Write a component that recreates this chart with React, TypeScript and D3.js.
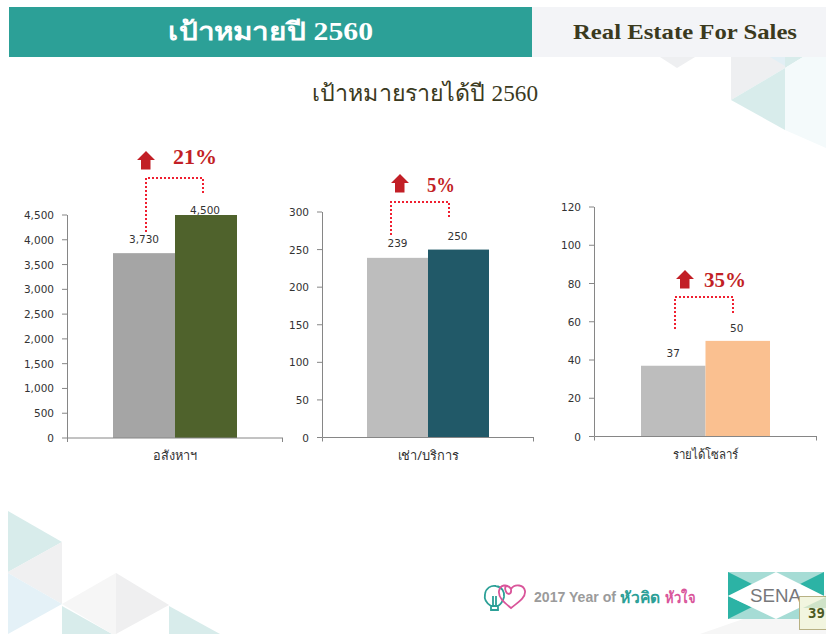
import React from "react";
import * as d3 from "d3";

// ---- data ----
const seriesKeys = ["actual", "target"];
const categories = ["อสังหาฯ", "เช่า/บริการ", "รายได้โซลาร์"];
const previousValues = [3730, 239, 37];
const targetValues = [4500, 250, 50];
const axisMaximums = [4500, 300, 120];
const tickCounts = [9, 6, 6];
const growthLabels = ["21%", "5%", "35%"];
const previousColors = ["#a5a5a5", "#bdbdbd", "#bdbdbd"];
const targetColors = ["#4f622c", "#215968", "#fac090"];

// ---- layout ----
const panels = [
  { x0: 67, x1: 283, top: 215, bottom: 438, outer: 46, labelOff: [10, 1], catY: 460, catW: 44,
    bL: 146, bR: 203, bTop: 178, bLBot: 232, bRBot: 193, arrowX: 146, arrowTip: 151, gX: 173, gY: 164, gW: 44 },
  { x0: 322, x1: 534, top: 212, bottom: 437.5, outer: 45, labelOff: [11, 10], catY: 460, catW: 61,
    bL: 391, bR: 449, bTop: 202, bLBot: 235, bRBot: 218, arrowX: 400, arrowTip: 174, gX: 427, gY: 192, gW: 28 },
  { x0: 594, x1: 817, top: 207, bottom: 436.5, outer: 47, labelOff: [9, 9], catY: 459, catW: 66,
    bL: 675, bR: 733, bTop: 297, bLBot: 329, bRBot: 313, arrowX: 685, arrowTip: 270, gX: 704, gY: 287, gW: 42 },
];

const TICK_FONT = "'DejaVu Sans', sans-serif";
const THAI_FONT = "'Noto Sans', 'Liberation Sans', sans-serif";
const HEAD_FONT = "'Liberation Serif', serif";
const LATIN_FONT = "'Liberation Sans', sans-serif";

const decor: [string, string][] = [
  ["8,511 62,542 8,572", "#d8eceb"],
  ["8,572 62,542 62,604 8,573", "#f0f0f1"],
  ["8,573 62,604 8,634", "#e4f1f7"],
  ["62,606 112,634 62,634", "#d8eceb"],
  ["62,604 116,573 116,634 112,634", "#f6f6f6"],
  ["116,573 169,605 116,634", "#efeff0"],
  ["169,606 220,634 169,634", "#d8eceb"],
  ["731,57 785,57 785,68 731,100", "#eeeff1"],
  ["731,100 785,68 785,130", "#d8eceb"],
  ["770,57 785,57 785,66", "#e2eff5"],
  ["785,57 803,57 785,68", "#d8eceb"],
  ["803,57 826,57 826,148 785,130 785,68", "#f4fafb"],
  ["660,57 695,57 677,68", "#eeeff1"],
  ["700,634 826,590 826,634", "#f6f6f6"],
];

function Panel({ i }: { i: number }) {
  const p = panels[i];
  const y = d3.scaleLinear().domain([0, axisMaximums[i]]).range([p.bottom, p.top]);
  const step = (p.x1 - p.x0 - 2 * p.outer) / 2;
  const x = d3
    .scaleBand<string>()
    .domain(seriesKeys)
    .range([p.x0, p.x1])
    .paddingInner(0)
    .paddingOuter(p.outer / step);
  const vals = [previousValues[i], targetValues[i]];
  const cols = [previousColors[i], targetColors[i]];
  const fmt = d3.format(",");
  const ax = p.arrowX;
  const t = p.arrowTip;
  return (
    <g>
      {seriesKeys.map((k, j) => (
        <rect key={k} x={x(k)} y={y(vals[j])} width={x.bandwidth()} height={p.bottom - y(vals[j])} fill={cols[j]} />
      ))}
      <path
        d={`M${p.x0 + 0.5},${p.top}V${p.bottom}H${p.x1}M${p.x0 + 0.5},${p.bottom}v4M${p.x1 - 0.5},${p.bottom}v4`}
        fill="none"
        stroke="#868686"
      />
      {y.ticks(tickCounts[i]).map((v) => (
        <g key={v}>
          <line x1={p.x0 - 5} x2={p.x0} y1={y(v)} y2={y(v)} stroke="#868686" />
          <text x={p.x0 - 13} y={y(v) + 4} textAnchor="end" fontFamily={TICK_FONT} fontSize={10.5} fill="#333">
            {fmt(v)}
          </text>
        </g>
      ))}
      {seriesKeys.map((k, j) => (
        <text
          key={k}
          x={x(k)! + x.bandwidth() / 2 - (j === 0 ? 0 : 1)}
          y={y(vals[j]) - p.labelOff[j]}
          textAnchor="middle"
          fontFamily={TICK_FONT}
          fontSize={10.5}
          fill="#333"
        >
          {fmt(vals[j])}
        </text>
      ))}
      <text
        x={(p.x0 + p.x1) / 2 - p.catW / 2}
        y={p.catY}
        fontFamily={THAI_FONT}
        fontSize={13}
        fill="#333"
        textLength={p.catW}
        lengthAdjust="spacingAndGlyphs"
      >
        {categories[i]}
      </text>
      <path
        d={`M${p.bL},${p.bLBot}V${p.bTop}H${p.bR}V${p.bRBot}`}
        fill="none"
        stroke="#f01f30"
        strokeWidth={2}
        strokeDasharray="2 2"
      />
      <path d={`M${ax},${t}l9,9h-4.5v9.5h-9.5v-9.5h-4z`} fill="#c21f26" />
      <text
        x={p.gX}
        y={p.gY}
        fontFamily={HEAD_FONT}
        fontWeight="bold"
        fontSize={20}
        fill="#c21f26"
        textLength={p.gW}
        lengthAdjust="spacingAndGlyphs"
      >
        {growthLabels[i]}
      </text>
    </g>
  );
}

export default function App() {
  return (
    <svg width={826} height={634} style={{ position: "absolute", left: 0, top: 0, background: "#fff" }}>
      {decor.map(([pts, c]) => (
        <polygon key={pts} points={pts} fill={c} />
      ))}
      <rect x={9} y={7} width={523} height={50} fill="#2ca097" />
      <rect x={532} y={7} width={294} height={50} fill="#f3f4f7" />
      <text
        x={168}
        y={40}
        fontFamily={THAI_FONT}
        fontWeight="bold"
        fontSize={25}
        fill="#fff"
        textLength={205}
        lengthAdjust="spacingAndGlyphs"
      >
        เป้าหมายปี <tspan fontFamily={HEAD_FONT}>2560</tspan>
      </text>
      <text
        x={573}
        y={39}
        fontFamily={HEAD_FONT}
        fontWeight="bold"
        fontSize={22}
        fill="#3b3a1e"
        textLength={224}
        lengthAdjust="spacingAndGlyphs"
      >
        Real Estate For Sales
      </text>
      <text
        x={312}
        y={101}
        fontFamily={THAI_FONT}
        fontSize={23}
        fill="#3b3a1e"
        textLength={226}
        lengthAdjust="spacingAndGlyphs"
      >
        เป้าหมายรายได้ปี <tspan fontFamily={HEAD_FONT}>2560</tspan>
      </text>
      {panels.map((_, i) => (
        <Panel key={i} i={i} />
      ))}

      {/* footer logo */}
      <g fill="none" strokeWidth={1.8}>
        <path d="M491,610v-4c-5,-3 -7,-7 -6,-12c1,-6 6,-9 11,-8c6,1 9,6 8,11c-1,4 -3,7 -6,9v4zM491,606h7M493,606v-10M496,606v-10" stroke="#2ca097" />
        <path d="M511,608c-6,-5 -13,-10 -12,-17c1,-6 8,-8 12,-2c4,-6 13,-4 14,2c1,7 -8,12 -14,17zM511,589c-2,-3 -3,-3 -5,-3c-2,2 0,8 3,8c3,-1 2,-3 2,-5" stroke="#d9559a" />
      </g>
      <text x={534} y={602} fontFamily={LATIN_FONT} fontWeight="bold" fontSize={14} fill="#9b9b9b" textLength={82} lengthAdjust="spacingAndGlyphs">
        2017 Year of
      </text>
      <text x={620} y={603} fontFamily={THAI_FONT} fontWeight="bold" fontSize={16} fill="#2ca097" textLength={40} lengthAdjust="spacingAndGlyphs">
        หัวคิด
      </text>
      <text x={665} y={603} fontFamily={THAI_FONT} fontWeight="bold" fontSize={16} fill="#d9559a" textLength={30} lengthAdjust="spacingAndGlyphs">
        หัวใจ
      </text>
      <polygon points="728,572 824,572 824,619 728,619" fill="#a6dcd5" />
      <polygon points="728,572 752,584 728,596" fill="#2cb3a5" />
      <polygon points="728,619 752,607 728,596" fill="#2cb3a5" />
      <polygon points="824,572 800,584 824,596" fill="#2cb3a5" />
      <polygon points="824,619 800,607 824,596" fill="#2cb3a5" />
      <polygon points="728,596 776,572 824,596 776,619" fill="#fff" />
      <text x={750} y={602} fontFamily={LATIN_FONT} fontSize={19} fill="#77787b" textLength={51} lengthAdjust="spacingAndGlyphs">
        SENA
      </text>
      <rect x={799.5} y={596.5} width={27} height={33} fill="#f2f5df" stroke="#b8b184" />
      <polygon points="803,608 826,597 826,608" fill="#cfe3c8" />
      <text x={808} y={618} fontFamily="'DejaVu Sans Mono', monospace" fontWeight="bold" fontSize={14} fill="#4b5a22">
        39
      </text>
    </svg>
  );
}
